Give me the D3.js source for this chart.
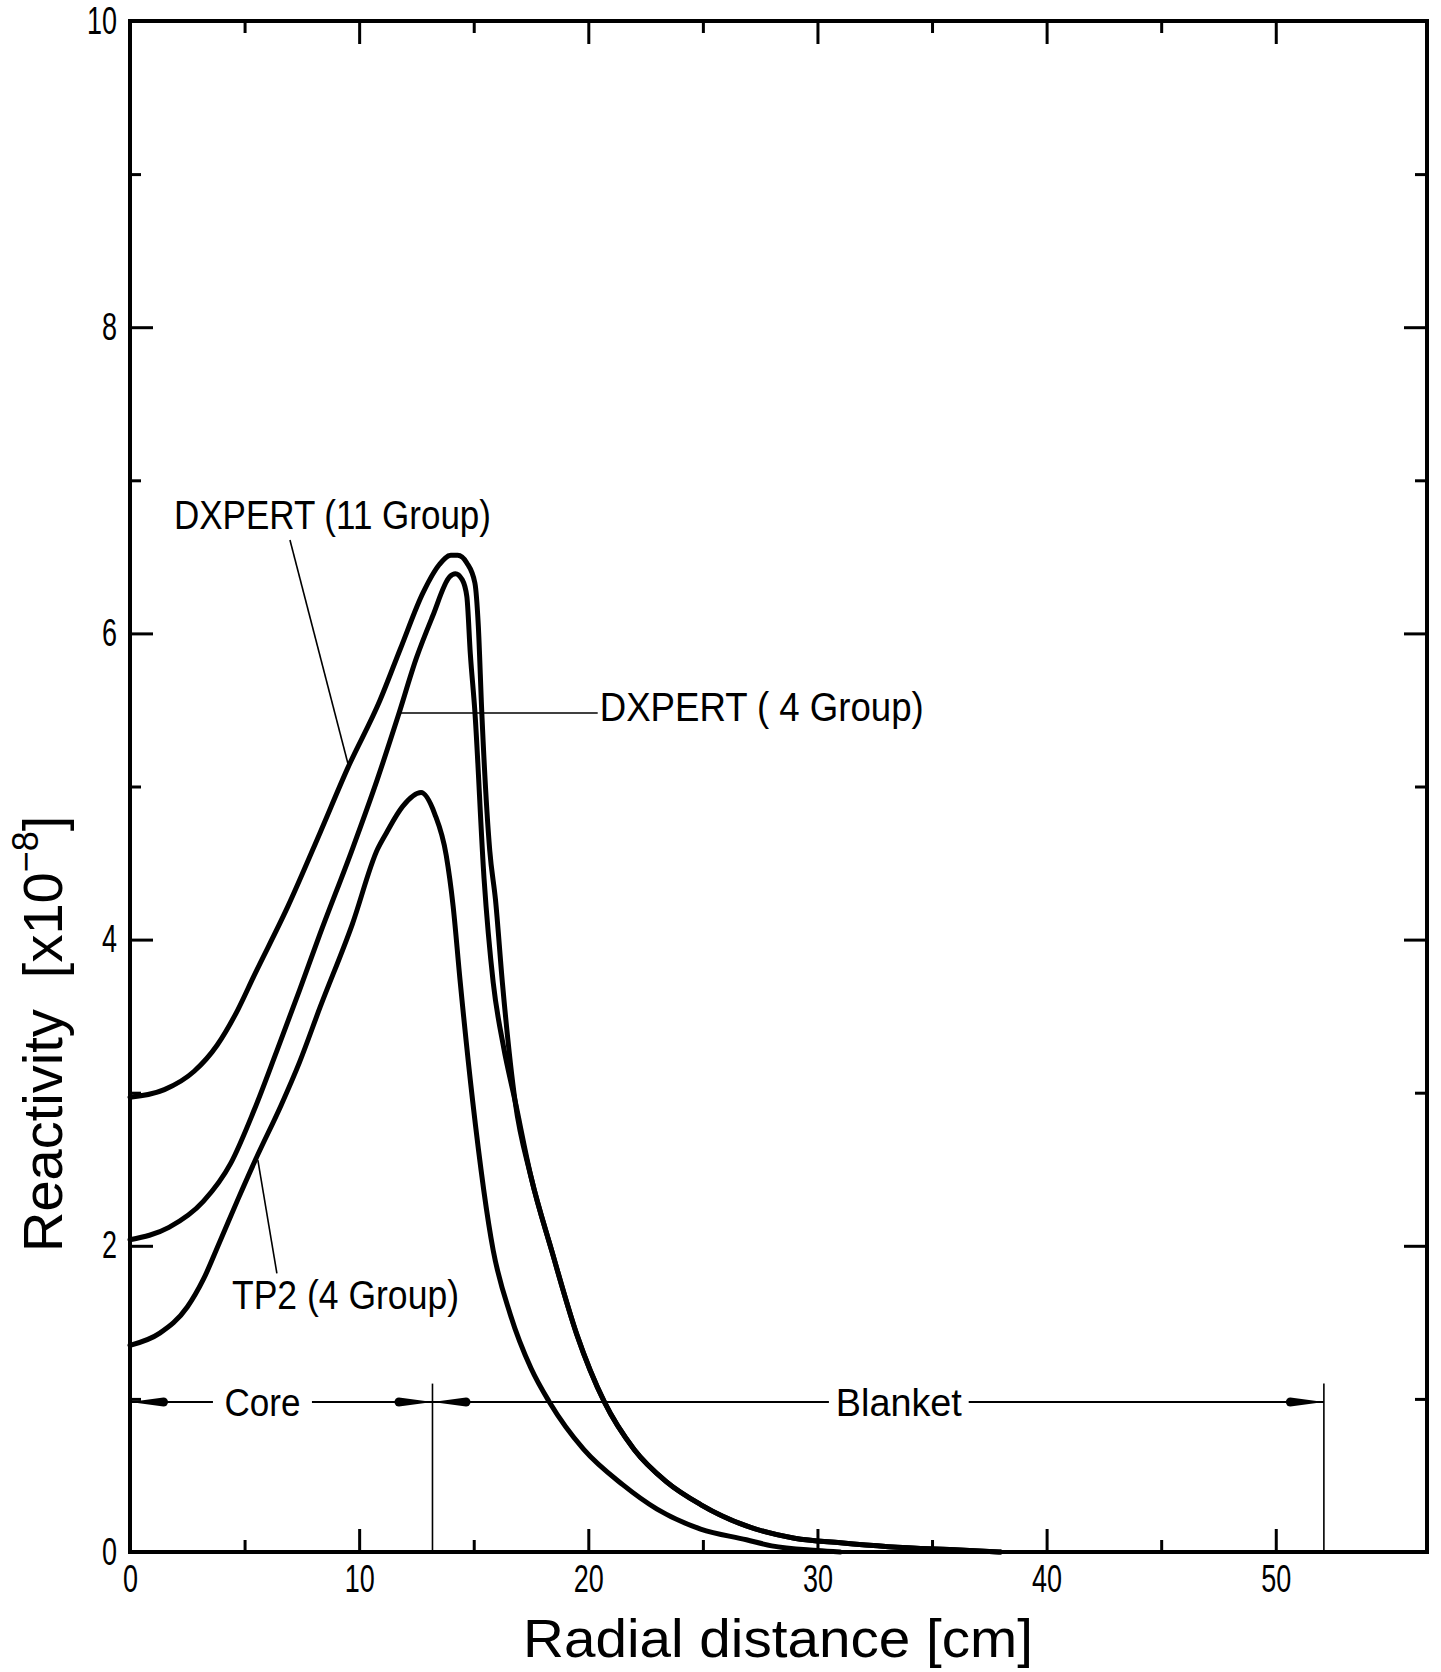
<!DOCTYPE html>
<html>
<head>
<meta charset="utf-8">
<script src="https://cdn.jsdelivr.net/npm/d3@7"></script>
<style>
  body { margin: 0; background: #fff; }
  text { font-family: "Liberation Sans", Arial, sans-serif; fill: #000; }
</style>
</head>
<body>
<div id="chart"></div>
<script>
// DXPERT (11 Group)
const dx11X = [0, 1.5, 2.8, 3.8, 4.7, 5.4, 6.9, 8.3, 9.5, 10.9, 11.8, 12.8, 13.5, 14.0, 14.3, 14.7, 15.05, 15.2, 15.35, 15.7, 15.95, 16.25, 16.8, 17.5, 18.4, 19.5, 20.7, 22.0, 23.4, 24.9, 26.9, 29.0, 31.0, 33.1, 36.2, 38.0];
const dx11Y = [2.97, 3.02, 3.14, 3.31, 3.54, 3.76, 4.22, 4.70, 5.12, 5.56, 5.9, 6.27, 6.45, 6.51, 6.51, 6.46, 6.33, 6.05, 5.49, 4.58, 4.26, 3.72, 2.95, 2.45, 1.97, 1.42, 0.98, 0.67, 0.46, 0.31, 0.17, 0.09, 0.06, 0.035, 0.013, 0];

// DXPERT (4 Group)
const dx4X = [0, 1.7, 3.2, 4.4, 5.4, 6.4, 7.4, 8.3, 9.7, 10.8, 11.7, 12.5, 13.2, 13.95, 14.2, 14.5, 14.7, 14.85, 15.05, 15.45, 15.85, 16.3, 16.8, 17.5, 18.4, 19.5, 20.7, 22.0, 23.4, 24.9, 26.9, 29.0, 31.0, 33.1, 36.2, 38.0];
const dx4Y = [2.04, 2.12, 2.29, 2.54, 2.88, 3.27, 3.67, 4.04, 4.59, 5.05, 5.46, 5.84, 6.11, 6.37, 6.39, 6.35, 6.24, 5.87, 5.49, 4.4, 3.72, 3.3, 2.95, 2.45, 1.97, 1.42, 0.98, 0.67, 0.46, 0.31, 0.17, 0.09, 0.06, 0.035, 0.013, 0];

// TP2 (4 Group)
const tp2X = [0, 1.3, 2.5, 3.2, 3.9, 4.7, 5.5, 6.6, 7.4, 8.3, 9.7, 10.8, 11.2, 11.9, 12.7, 13.3, 13.8, 14.1, 14.4, 14.95, 15.85, 16.6, 17.5, 18.3, 19.8, 21.5, 23.0, 24.9, 26.9, 28.0, 30.0, 31.0];
const tp2Y = [1.35, 1.43, 1.6, 1.78, 2.02, 2.3, 2.57, 2.92, 3.2, 3.56, 4.1, 4.59, 4.7, 4.87, 4.96, 4.82, 4.55, 4.22, 3.74, 2.95, 1.97, 1.55, 1.2, 0.98, 0.67, 0.44, 0.28, 0.15, 0.08, 0.04, 0.01, 0];

const curveLabels = ["DXPERT (11 Group)", "DXPERT ( 4 Group)", "TP2 (4 Group)"];
const regionNames = ["Core", "Blanket"];
const regionBounds = [0, 13.2, 52.1];   // cm
const regionLevel = 0.98;

const xMajor = [0, 10, 20, 30, 40, 50];
const xMinor = [5, 15, 25, 35, 45];
const yMajor = [0, 2, 4, 6, 8, 10];
const yMinor = [1, 3, 5, 7, 9];

const width = 1441, height = 1672;
const margin = { top: 21, right: 14, bottom: 120, left: 130 };

const svg = d3.select("#chart").append("svg")
  .attr("width", width)
  .attr("height", height)
  .style("background", "#fff");

const x = d3.scaleLinear().domain([0, 56.6]).range([margin.left, width - margin.right]);
const y = d3.scaleLinear().domain([0, 10]).range([height - margin.bottom, margin.top]);

// axes: ticks point inward on all four sides
function styleAxis(g) {
  g.select(".domain").remove();
  g.selectAll(".tick line").attr("stroke", "#000").attr("stroke-width", 3);
  g.selectAll(".tick text")
    .attr("font-size", 38)
    .attr("fill", "#000")
    .attr("textLength", function () { return this.textContent.length * 15; })
    .attr("lengthAdjust", "spacingAndGlyphs");
}

svg.append("g")
  .attr("transform", `translate(0,${y(0)})`)
  .call(d3.axisBottom(x).tickValues(xMajor).tickSize(-23).tickPadding(13).tickFormat(d3.format("d")))
  .call(styleAxis);
svg.append("g")
  .attr("transform", `translate(0,${y(0)})`)
  .call(d3.axisBottom(x).tickValues(xMinor).tickSize(-12).tickFormat(""))
  .call(styleAxis);
svg.append("g")
  .attr("transform", `translate(0,${y(10)})`)
  .call(d3.axisTop(x).tickValues(xMajor).tickSize(-23).tickFormat(""))
  .call(styleAxis);
svg.append("g")
  .attr("transform", `translate(0,${y(10)})`)
  .call(d3.axisTop(x).tickValues(xMinor).tickSize(-12).tickFormat(""))
  .call(styleAxis);

svg.append("g")
  .attr("transform", `translate(${x(0)},0)`)
  .call(d3.axisLeft(y).tickValues(yMajor).tickSize(-23).tickPadding(13).tickFormat(d3.format("d")))
  .call(styleAxis);
svg.append("g")
  .attr("transform", `translate(${x(0)},0)`)
  .call(d3.axisLeft(y).tickValues(yMinor).tickSize(-11).tickFormat(""))
  .call(styleAxis);
svg.append("g")
  .attr("transform", `translate(${x(56.6)},0)`)
  .call(d3.axisRight(y).tickValues(yMajor).tickSize(-23).tickFormat(""))
  .call(styleAxis);
svg.append("g")
  .attr("transform", `translate(${x(56.6)},0)`)
  .call(d3.axisRight(y).tickValues(yMinor).tickSize(-12).tickFormat(""))
  .call(styleAxis);

// frame
svg.append("rect")
  .attr("x", x(0))
  .attr("y", y(10))
  .attr("width", x(56.6) - x(0))
  .attr("height", y(0) - y(10))
  .attr("fill", "none")
  .attr("stroke", "#000")
  .attr("stroke-width", 4);

// curves
const line = d3.line()
  .x((d) => x(d[0]))
  .y((d) => y(d[1]))
  .curve(d3.curveMonotoneX);

const series = [
  d3.zip(dx11X, dx11Y),
  d3.zip(dx4X, dx4Y),
  d3.zip(tp2X, tp2Y)
];

svg.selectAll(".curve")
  .data(series)
  .join("path")
  .attr("class", "curve")
  .attr("d", line)
  .attr("fill", "none")
  .attr("stroke", "#000")
  .attr("stroke-width", 5)
  .attr("stroke-linejoin", "round")
  .attr("stroke-linecap", "round");

// leader lines + curve labels
function leader(x1, y1, x2, y2) {
  svg.append("line")
    .attr("x1", x(x1)).attr("y1", y(y1))
    .attr("x2", x(x2)).attr("y2", y(y2))
    .attr("stroke", "#000")
    .attr("stroke-width", 1.6);
}
function label(str, xv, yv, size, len, anchor) {
  return svg.append("text")
    .attr("x", x(xv))
    .attr("y", y(yv))
    .attr("font-size", size)
    .attr("text-anchor", anchor || "start")
    .attr("textLength", len)
    .attr("lengthAdjust", "spacingAndGlyphs")
    .style("white-space", "pre")
    .text(str);
}

leader(6.98, 6.61, 9.51, 5.15);
label(curveLabels[0], 1.92, 6.68, 40, 317);

leader(11.69, 5.48, 20.41, 5.48);
label(curveLabels[1], 20.5, 5.43, 40, 324);

leader(5.58, 2.56, 6.41, 1.82);
label(curveLabels[2], 4.45, 1.59, 40, 227);

// core / blanket markers
const gapCore = [3.62, 7.94];
const gapBlanket = [30.5, 36.6];

[[regionBounds[0], gapCore[0]], [gapCore[1], regionBounds[1]],
 [regionBounds[1], gapBlanket[0]], [gapBlanket[1], regionBounds[2]]].forEach((seg) => {
  svg.append("line")
    .attr("x1", x(seg[0])).attr("x2", x(seg[1]))
    .attr("y1", y(regionLevel)).attr("y2", y(regionLevel))
    .attr("stroke", "#000")
    .attr("stroke-width", 2);
});

[regionBounds[1], regionBounds[2]].forEach((b) => {
  svg.append("line")
    .attr("x1", x(b)).attr("x2", x(b))
    .attr("y1", y(0)).attr("y2", y(1.1))
    .attr("stroke", "#000")
    .attr("stroke-width", 1.6);
});

// slender arrowheads, tip on the boundary
function arrow(xv, dir) {
  const L = 38, w = 4.5;
  svg.append("path")
    .attr("d", `M0,0 L${L - w},${-w} A${w},${w} 0 0 1 ${L - w},${w} Z`)
    .attr("transform", `translate(${x(xv)},${y(regionLevel)}) scale(${dir},1)`)
    .attr("fill", "#000");
}
arrow(regionBounds[0], 1);
arrow(regionBounds[1], -1);
arrow(regionBounds[1], 1);
arrow(regionBounds[2], -1);

label(regionNames[0], (gapCore[0] + gapCore[1]) / 2, regionLevel, 38, 76, "middle")
  .attr("dy", "0.36em");
label(regionNames[1], (gapBlanket[0] + gapBlanket[1]) / 2, regionLevel, 38, 126, "middle")
  .attr("dy", "0.36em");

// axis titles
svg.append("text")
  .attr("x", 523)
  .attr("y", 1657)
  .attr("font-size", 54)
  .attr("textLength", 510)
  .attr("lengthAdjust", "spacingAndGlyphs")
  .text("Radial distance [cm]");

const yTitle = svg.append("text")
  .attr("transform", `translate(62,${1252}) rotate(-90)`)
  .attr("font-size", 56)
  .style("white-space", "pre");
yTitle.append("tspan").text("Reactivity  [x10");
yTitle.append("tspan").attr("font-size", 36).attr("dy", -24).text("\u22128");
yTitle.append("tspan").attr("dy", 24).text("]");
</script>
</body>
</html>
